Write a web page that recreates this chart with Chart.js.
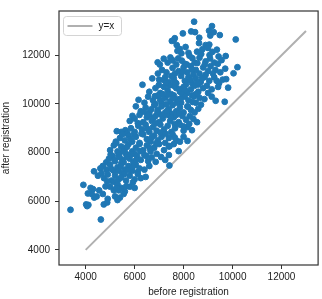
<!DOCTYPE html>
<html>
<head>
<meta charset="utf-8">
<script src="https://cdn.jsdelivr.net/npm/chart.js@4/dist/chart.umd.min.js"></script>
<style>
  html, body { margin: 0; padding: 0; background: #fff; }
  canvas { display: block; }
</style>
</head>
<body>
<canvas id="regChart" width="322" height="299"></canvas>
<script>
// values
const beforeReg = [
  8430, 9160, 9040, 8310, 8470, 7970, 9090, 9480, 9230,
  7640, 7520, 10130, 8630, 8900, 9050, 7600,
  8770, 7840, 7910, 9060, 8200, 8550, 9000, 7750,
  8360, 9430, 9720, 6940, 7460, 7930, 8650, 9080, 9250, 8050, 7700, 8900, 9550, 7350, 8450, 9400,
  10200, 10040, 7120, 7300, 7550, 7800, 8000, 8150, 8300, 8500, 8650, 8800, 9000, 9100, 9300, 9500, 9700, 7650, 8400, 6950, 9200, 8900,
  6720, 9740, 7000, 7250, 7400, 7600, 7700, 7900, 8050, 8200, 8350, 8500, 8700, 8850, 9050, 9250, 9450, 9600, 7500, 8100, 8600, 9350,
  6320, 9820, 9410, 6600, 6850, 7050, 7200, 7350, 7500, 7700, 7850, 8000, 8150, 8300, 8450, 8600, 8800, 9000, 9150, 7600, 8950, 7950, 8500,
  6160, 9680, 9310, 8710, 6400, 6550, 6750, 6950, 7100, 7250, 7450, 7600, 7750, 7900, 8050, 8200, 8350, 8500, 8650, 8850, 7150, 6850, 9150,
  6050, 6250, 6450, 6600, 6800, 6950, 7100, 7250, 7400, 7550, 7700, 7850, 8000, 8150, 8300, 8450, 8600, 7000, 7500,
  5910, 5800, 6000, 6200, 6350, 6500, 6700, 6850, 7000, 7150, 7300, 7450, 7600, 7800, 7950, 8100, 8250, 8400, 8550, 6600, 7700,
  5270, 5620, 5450, 5850, 6000, 6150, 6300, 6450, 6600, 6750, 6900, 7050, 7200, 7350, 7500, 7650, 7850, 8000, 8340, 8150, 5700, 6850,
  5230, 5400, 5600, 5750, 5900, 6050, 6200, 6350, 6500, 6650, 6800, 6950, 7100, 7250, 7400, 7550, 7700, 7850, 8160, 8000, 5500,
  5000, 5150, 5300, 5450, 5600, 5750, 5900, 6050, 6200, 6350, 6500, 6650, 6800, 7000, 7200, 7400, 7800, 7600, 5250,
  5100, 4840, 4950, 5200, 5350, 5500, 5650, 5800, 5950, 6100, 6250, 6400, 6550, 6700, 6900, 7080, 7250, 7400, 5550, 6000,
  4340, 4700, 4850, 5000, 5150, 5300, 5450, 5600, 5750, 5900, 6050, 6200, 6400, 6600, 7420, 4600, 5350,
  4500, 4750, 4900, 5050, 5200, 5350, 5500, 5650, 5800, 6000, 6250, 6450, 5150, 4650,
  3906, 4810, 4300, 4550, 5000, 5150, 5300, 5450, 5600, 5800, 6000, 4200, 5350,
  4090, 4250, 4450, 4700, 4900, 5200, 5400, 5550, 5300, 4350,
  4020, 4110, 4740, 4880, 3380, 4060,
  4620,
  // denser core of the cloud
  7180, 7420, 7630, 7830, 8080, 8270, 8420, 8580, 8760, 7960, 8130, 8340, 8560, 8720, 8080, 8240, 7780,
  7290, 6990, 6830, 7040, 7380, 7560, 7720, 7880, 8180, 8370, 8560, 7290, 6680, 6530, 6770, 6930,
  7120, 7330, 7480, 7640, 7810, 7990, 8230, 6370, 6130, 6280, 6520, 6700, 6880, 7060, 7270, 7430,
  7640, 5980, 5830, 5690, 5520, 5380, 5680, 5860, 6060, 6230, 6480, 6620, 6860, 5430, 5580, 5730,
  5920, 6120, 5180, 5020, 5450, 5660, 5260, 5060, 4880, 5930, 6130, 7030, 7190, 7560, 8870, 9180,
  9360, 8640, 7720
];
const afterReg = [
  13380, 13200, 13010, 12980, 12950, 12900, 12810, 12830, 12950,
  12700, 12590, 12650, 12500, 12420, 12440, 12620,
  12250, 12260, 12080, 12010, 12100, 12150, 12300, 12180,
  11880, 11950, 11970, 11710, 11910, 11780, 11900, 11870, 11700, 11650, 11620, 11750, 11800, 11700, 11700, 11650,
  11510, 11260, 11400, 11300, 11480, 11350, 11500, 11300, 11550, 11400, 11250, 11500, 11350, 11550, 11400, 11300, 11450, 11250, 11200, 11250, 11250, 11200,
  11050, 11020, 11000, 11100, 10900, 11050, 10850, 11150, 10950, 11100, 10850, 11050, 10900, 11100, 10950, 11100, 10850, 11000, 11150, 10800, 10800, 10950,
  10790, 10670, 10700, 10500, 10650, 10450, 10700, 10550, 10400, 10650, 10500, 10700, 10450, 10600, 10750, 10500, 10650, 10450, 10600, 10750, 10750, 10400, 10400,
  10170, 10090, 10130, 9970, 10050, 10300, 10150, 10350, 10050, 10250, 10100, 10350, 10200, 10050, 10300, 10150, 10350, 10050, 10250, 10200, 10400, 10000, 10300,
  9900, 9700, 9850, 9650, 9950, 9750, 9900, 9650, 9800, 9950, 9700, 9850, 9650, 9900, 9750, 9650, 9800, 9600, 9600,
  9510, 9300, 9400, 9550, 9250, 9450, 9300, 9500, 9250, 9400, 9550, 9300, 9450, 9250, 9500, 9350, 9500, 9380, 9250, 9550, 9550,
  8880, 8920, 8850, 9000, 8850, 9100, 8950, 9150, 8850, 9050, 8900, 9150, 8950, 9100, 8850, 9000, 9150, 8900, 8920, 9050, 8800, 9200,
  8450, 8600, 8500, 8700, 8450, 8650, 8400, 8750, 8550, 8450, 8700, 8500, 8650, 8400, 8600, 8750, 8500, 8450, 8480, 8650, 8750,
  8100, 8300, 8050, 8250, 8150, 8350, 8050, 8200, 8350, 8100, 8300, 8050, 8200, 8350, 8100, 8250, 8060, 8350, 8400,
  7860, 7600, 7750, 7650, 7900, 7700, 7950, 7750, 7600, 7850, 7700, 7900, 7650, 7800, 7950, 7820, 7700, 7900, 7600, 7950,
  7230, 7450, 7300, 7500, 7250, 7400, 7550, 7300, 7450, 7250, 7500, 7350, 7300, 7450, 7470, 7350, 7250,
  7050, 6950, 7100, 6850, 7050, 6900, 7150, 6850, 7050, 6900, 6950, 7000, 6800, 7150,
  6675, 6610, 6500, 6450, 6600, 6450, 6700, 6550, 6400, 6600, 6550, 6550, 6450,
  6320, 6300, 6200, 6300, 6100, 6200, 6150, 6300, 6050, 6150,
  5870, 5850, 5870, 5950, 5650, 5800,
  5250,
  // denser core of the cloud
  10980, 10760, 10920, 10610, 10560, 10980, 10320, 10880, 11060, 11320, 11620, 11420, 11680, 12050, 12340, 11980, 11870,
  10860, 10780, 10320, 10180, 10380, 10230, 10050, 10210, 9890, 10080, 10420, 9980, 9780, 9560, 9420, 9680,
  9530, 9720, 9440, 9170, 9620, 9080, 9180, 9680, 9210, 8780, 8980, 8620, 8380, 8820, 8770, 8270,
  8620, 8760, 8560, 8240, 8050, 7820, 7820, 7930, 7700, 8060, 7860, 8180, 7620, 7430, 7120, 7280,
  7420, 7200, 7700, 7920, 6980, 6620, 6550, 7320, 6820, 6780, 7120, 11620, 11860, 11790, 11630, 12140,
  12230, 12720, 12420
];
const lineX = [4000, 13000];
const lineY = [4000, 13000];
const tickValues = [4000, 6000, 8000, 10000, 12000];

const scatterPts = beforeReg.map((x, i) => ({ x: x, y: afterReg[i] }));
const linePts = lineX.map((x, i) => ({ x: x, y: lineY[i] }));

const FONT = "'Liberation Sans', Arial, sans-serif";

// frame around the plot area + legend box inside it (like matplotlib)
const frameAndLegend = {
  id: 'frameAndLegend',
  afterDraw(chart) {
    const { ctx, chartArea: a } = chart;
    ctx.save();
    ctx.strokeStyle = '#333';
    ctx.lineWidth = 1.2;
    ctx.strokeRect(a.left, a.top, a.right - a.left, a.bottom - a.top);

    const ds = chart.data.datasets[1];
    const bx = a.left + 4.5, by = a.top + 5.5, bw = 58, bh = 19;
    ctx.beginPath();
    ctx.roundRect(bx, by, bw, bh, 3);
    ctx.fillStyle = 'rgba(255,255,255,0.8)';
    ctx.fill();
    ctx.strokeStyle = '#d4d4d4';
    ctx.lineWidth = 1;
    ctx.stroke();

    const ly = by + 9.5;
    ctx.beginPath();
    ctx.moveTo(bx + 4, ly);
    ctx.lineTo(bx + 29, ly);
    ctx.strokeStyle = ds.borderColor;
    ctx.lineWidth = ds.borderWidth;
    ctx.stroke();

    ctx.fillStyle = '#222';
    ctx.font = '10px ' + FONT;
    ctx.textBaseline = 'middle';
    ctx.fillText(ds.label, bx + 35, ly + 0.5);
    ctx.restore();
  }
};

new Chart(document.getElementById('regChart').getContext('2d'), {
  type: 'scatter',
  data: {
    datasets: [
      {
        label: 'points',
        data: scatterPts,
        pointBackgroundColor: '#1f77b4',
        pointBorderColor: '#1f77b4',
        pointBorderWidth: 1,
        pointRadius: 2.9,
        pointHoverRadius: 2.9
      },
      {
        type: 'line',
        label: 'y=x',
        data: linePts,
        borderColor: '#b0b0b0',
        borderWidth: 2,
        pointRadius: 0,
        fill: false
      }
    ]
  },
  options: {
    responsive: false,
    animation: false,
    devicePixelRatio: 1,
    events: [],
    layout: { padding: { top: 1, right: 1, left: 0, bottom: 0 } },
    plugins: {
      legend: { display: false },
      tooltip: { enabled: false }
    },
    scales: {
      x: {
        type: 'linear',
        min: 2910,
        max: 13495,
        afterBuildTicks: s => { s.ticks = tickValues.map(v => ({ value: v })); },
        afterFit: s => { s.height = 34; },
        border: { display: false },
        grid: { drawOnChartArea: false, drawTicks: true, tickLength: 4, tickColor: '#333', tickWidth: 1 },
        ticks: { color: '#222', font: { family: FONT, size: 10 }, padding: 2, maxRotation: 0,
                 callback: v => String(v) },
        title: { display: true, text: 'before registration', color: '#222',
                 font: { family: FONT, size: 10 }, padding: { top: 0, bottom: 1 } }
      },
      y: {
        type: 'linear',
        min: 3380,
        max: 13820,
        afterBuildTicks: s => { s.ticks = tickValues.map(v => ({ value: v })); },
        afterFit: s => { s.width = 59; },
        border: { display: false },
        grid: { drawOnChartArea: false, drawTicks: true, tickLength: 4, tickColor: '#333', tickWidth: 1 },
        ticks: { color: '#222', font: { family: FONT, size: 10 }, padding: 5,
                 callback: v => String(v) },
        title: { display: true, text: 'after registration', color: '#222',
                 font: { family: FONT, size: 10 }, padding: { top: 0, bottom: 0 } }
      }
    }
  },
  plugins: [frameAndLegend]
});
</script>
</body>
</html>
